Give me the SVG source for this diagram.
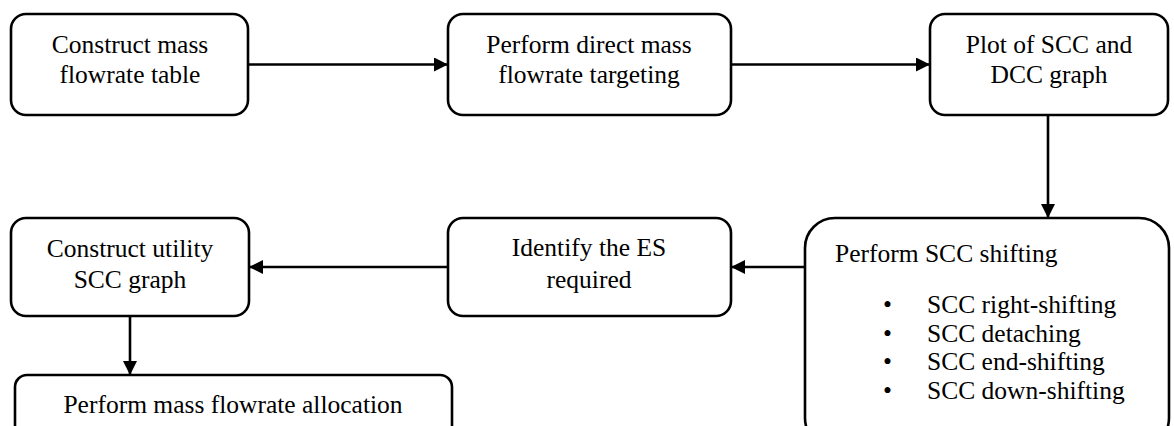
<svg xmlns="http://www.w3.org/2000/svg" width="1174" height="426" viewBox="0 0 1174 426">
<style>
.box{fill:#fff;stroke:#000;stroke-width:2.6}
.ln{stroke:#000;stroke-width:2.6;fill:none}
.f{font-family:'Liberation Serif','Times New Roman',Times,serif;font-size:25.5px;fill:#000}
</style>
<defs>
<marker id="ah" markerWidth="14" markerHeight="14" refX="14" refY="7" orient="auto" markerUnits="userSpaceOnUse">
<path d="M0,0 L14,7 L0,14 Z" fill="#000"/>
</marker>
</defs>
<rect width="1174" height="426" fill="#fff"/>
<g id="connectors">
<line class="ln" x1="248" y1="64.5" x2="448" y2="64.5" marker-end="url(#ah)"/>
<line class="ln" x1="731" y1="64.5" x2="930" y2="64.5" marker-end="url(#ah)"/>
<line class="ln" x1="1048" y1="115" x2="1048" y2="218" marker-end="url(#ah)"/>
<line class="ln" x1="805" y1="267" x2="731" y2="267" marker-end="url(#ah)"/>
<line class="ln" x1="448" y1="267" x2="249" y2="267" marker-end="url(#ah)"/>
<line class="ln" x1="130" y1="316" x2="130" y2="375" marker-end="url(#ah)"/>
</g>
<g class="f">
<g id="n1" text-anchor="middle">
<rect class="box" x="11" y="14" width="237" height="101" rx="15"/>
<text x="130" y="52.5">Construct mass</text>
<text x="130" y="83">flowrate table</text>
</g>
<g id="n2" text-anchor="middle">
<rect class="box" x="448" y="14" width="283" height="101" rx="15"/>
<text x="589" y="52.5">Perform direct mass</text>
<text x="589" y="83">flowrate targeting</text>
</g>
<g id="n3" text-anchor="middle">
<rect class="box" x="930" y="14" width="238" height="101" rx="15"/>
<text x="1049" y="52.5">Plot of SCC and</text>
<text x="1049" y="83">DCC graph</text>
</g>
<g id="n4">
<rect class="box" x="805" y="218" width="364" height="230" rx="30"/>
<text x="835" y="262">Perform SCC shifting</text>
<text x="883" y="313">•</text>
<text x="927" y="313">SCC right-shifting</text>
<text x="883" y="342">•</text>
<text x="927" y="342">SCC detaching</text>
<text x="883" y="370">•</text>
<text x="927" y="370">SCC end-shifting</text>
<text x="883" y="399">•</text>
<text x="927" y="399">SCC down-shifting</text>
</g>
<g id="n5" text-anchor="middle">
<rect class="box" x="448" y="218" width="283" height="98" rx="15"/>
<text x="589" y="255.5">Identify the ES</text>
<text x="589" y="287.5">required</text>
</g>
<g id="n6" text-anchor="middle">
<rect class="box" x="11" y="218" width="238" height="98" rx="15"/>
<text x="130" y="256.5">Construct utility</text>
<text x="130" y="288">SCC graph</text>
</g>
<g id="n7" text-anchor="middle">
<rect class="box" x="15" y="375" width="437" height="80" rx="12"/>
<text x="233" y="413">Perform mass flowrate allocation</text>
</g>
</g>
</svg>
